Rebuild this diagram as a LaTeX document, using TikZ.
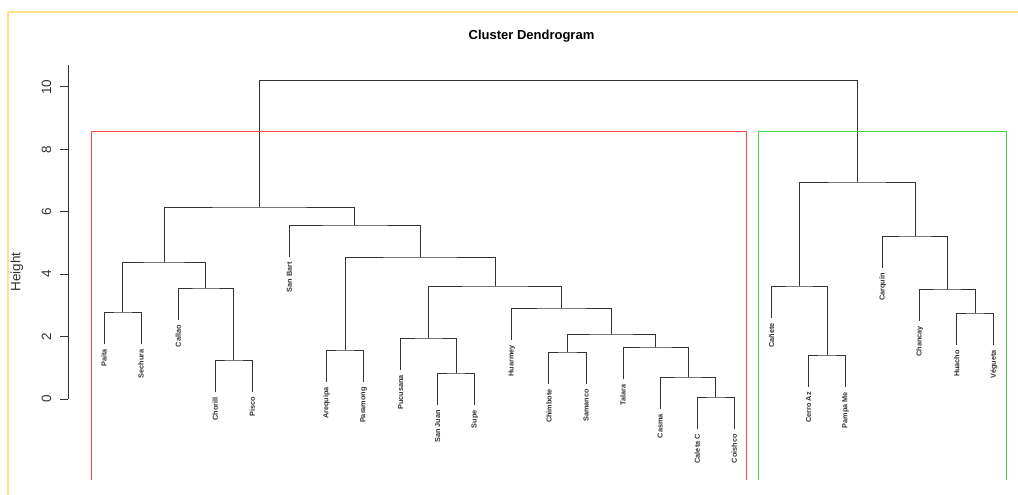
\documentclass[tikz,border=0pt]{standalone}
\usepackage{fontspec}
\setmainfont{Liberation Sans}
\usetikzlibrary{calc}
\definecolor{clred}{RGB}{255,70,70}
\definecolor{clgreen}{RGB}{60,215,60}
\definecolor{frameyel}{RGB}{255,226,135}
\definecolor{dendcol}{RGB}{50,50,50}
\tikzset{
  dend/.style={draw=dendcol, line width=1pt},
  leaflab/.style={font=\bfseries\fontsize{7.3}{8}\selectfont, rotate=90, anchor=east, inner sep=0pt, text=dendcol},
  ticklab/.style={font=\fontsize{13.5}{15}\selectfont, rotate=90, inner sep=0pt, text=dendcol},
  clusterbox/.style={line width=1pt},
}
\newcommand\leafnode[4]{%
  \coordinate (#1) at ({104+37.08*(#2-1)},#3);
  \node[leaflab] (t#1) at ([yshift=-5pt]#1) {#4};}
\newcommand\mrg[4]{%
  \path let \p1=(#2), \p2=(#3) in coordinate (#1) at ({(\x1+\x2)/2},{-#4pt});
  \draw[dend] (#2) |- (#1) -| (#3);}
\begin{document}
\begin{tikzpicture}[x=1pt,y=-1pt]
\useasboundingbox (0,0) rectangle (1018,495);
% outer yellow frame
\draw[frameyel, line width=1.2pt] (8,495) -- (8,12) -- (1018,12);
% title
\node[font=\bfseries\fontsize{13}{15}\selectfont] (title) at (531.5,36) {Cluster Dendrogram};
% axis
\draw[dend] (68,399) -- (68,65);
\foreach \v in {0,2,4,6,8,10} {
  \draw[dend] (60,{399-31.2*\v}) -- (68,{399-31.2*\v});
  \node[ticklab] (tk\v) at (46.5,{399-31.2*\v}) {\v};
}
\node[ticklab] (ylab) at (17,272) {Height};
% leaves
\leafnode{paita}{1}{344}{Paita}
\leafnode{sechura}{2}{344}{Sechura}
\leafnode{callao}{3}{320}{Callao}
\leafnode{chorill}{4}{392}{Chorill}
\leafnode{pisco}{5}{392}{Pisco}
\leafnode{sanbart}{6}{257}{San Bart}
\leafnode{arequipa}{7}{382}{Arequipa}
\leafnode{paramong}{8}{382}{Paramong}
\leafnode{pucusana}{9}{370}{Pucusana}
\leafnode{sanjuan}{10}{405}{San Juan}
\leafnode{supe}{11}{405}{Supe}
\leafnode{huarmey}{12}{340}{Huarmey}
\leafnode{chimbote}{13}{384}{Chimbote}
\leafnode{samanco}{14}{384}{Samanco}
\leafnode{talara}{15}{379}{Talara}
\leafnode{casma}{16}{409}{Casma}
\leafnode{caletac}{17}{429}{Caleta C}
\leafnode{coishco}{18}{429}{Coishco}
\leafnode{canete}{19}{318}{Cañete}
\leafnode{cerroaz}{20}{387}{Cerro Az}
\leafnode{pampame}{21}{387}{Pampa Me}
\leafnode{carquin}{22}{268}{Carquín}
\leafnode{chancay}{23}{321}{Chancay}
\leafnode{huacho}{24}{345}{Huacho}
\leafnode{vegueta}{25}{345}{Végueta}
% merges
\mrg{m1}{paita}{sechura}{312}
\mrg{m2}{chorill}{pisco}{360}
\mrg{m3}{callao}{m2}{288}
\mrg{m4}{m1}{m3}{262}
\mrg{m5}{arequipa}{paramong}{350}
\mrg{m6}{sanjuan}{supe}{373}
\mrg{m7}{pucusana}{m6}{338}
\mrg{m8}{caletac}{coishco}{397}
\mrg{m9}{casma}{m8}{377}
\mrg{m10}{talara}{m9}{347}
\mrg{m11}{chimbote}{samanco}{352}
\mrg{m12}{m11}{m10}{334}
\mrg{m13}{huarmey}{m12}{308}
\mrg{m14}{m7}{m13}{286}
\mrg{m15}{m5}{m14}{257}
\mrg{m16}{sanbart}{m15}{225}
\mrg{m17}{m4}{m16}{207}
\mrg{m18}{cerroaz}{pampame}{355}
\mrg{m19}{canete}{m18}{286}
\mrg{m20}{huacho}{vegueta}{313}
\mrg{m21}{chancay}{m20}{289}
\mrg{m22}{carquin}{m21}{236}
\mrg{m23}{m19}{m22}{182}
\mrg{m24}{m17}{m23}{80.7}
% cluster boxes
\draw[clusterbox, clred] (91,480) -- (91,131.5) -- (746,131.5) -- (746,480);
\draw[clusterbox, clgreen] (758,480) -- (758,131.5) -- (1006,131.5) -- (1006,480);
\end{tikzpicture}
\end{document}
